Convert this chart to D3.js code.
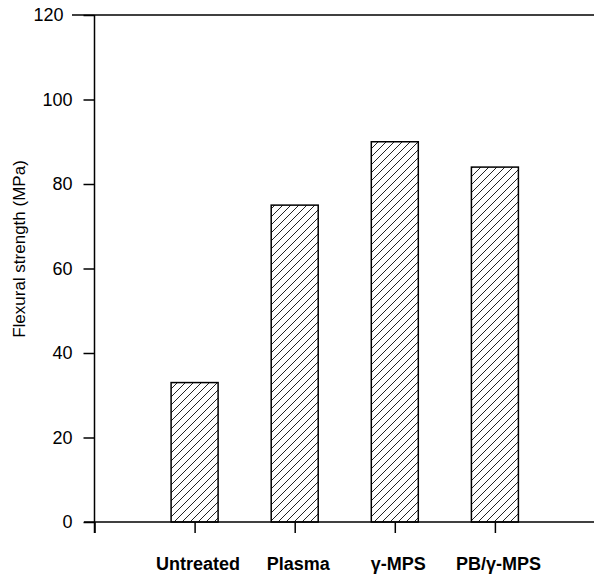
<!DOCTYPE html>
<html lang="en">
    <head>
        <meta charset="utf-8">
        <title> flexural strength bar chart </title>
        <script src="https://d3js.org/d3.v7.min.js"></script>
        <style type="text/css">
        body { margin: 0; background: #fff; }
        text { font-family: "Liberation Sans", Arial, sans-serif; fill: #000; }
        .bar { fill: url(#hatch); stroke: #000; stroke-width: 1.5px; }
        .frame { stroke: #000; stroke-width: 1.5px; fill: none; }
        </style>
    </head>
    <body>
    <script type="text/javascript">

  var w = 594;
  var h = 576;

  // data
  var categories = ["Untreated", "Plasma", "\u03b3-MPS", "PB/\u03b3-MPS"];
  var strength = [33, 75, 90, 84];
  var yTicks = [0, 20, 40, 60, 80, 100, 120];

  var svg = d3.select("body")
              .append("svg")
              .attr("width", w)
              .attr("height", h);

  // hatch pattern for the bars
  var pat = svg.append("defs")
               .append("pattern")
               .attr("id", "hatch")
               .attr("patternUnits", "userSpaceOnUse")
               .attr("width", 8)
               .attr("height", 8);
      pat.append("rect").attr("width", 8).attr("height", 8).attr("fill", "#fff");
      pat.append("path")
         .attr("d", "M-2,2 L2,-2 M0,8 L8,0 M6,10 L10,6")
         .attr("stroke", "#222")
         .attr("stroke-width", 1);

  // scales: categories sit at positions 1..4
  var xScale = d3.scaleLinear()
                 .domain([0, 5])
                 .range([94.5, 595]);

  var yScale = d3.scaleLinear()
                 .domain([0, 120])
                 .range([522, 15]);

  var barW = 47;

  svg.selectAll("rect.bar")
     .data(strength)
     .enter()
     .append("rect")
     .attr("class", "bar")
     .attr("x", (d, i) => xScale(i + 1) - barW / 2)
     .attr("y", d => yScale(d))
     .attr("width", barW)
     .attr("height", d => yScale(0) - yScale(d));

  // top frame line
  svg.append("line")
     .attr("class", "frame")
     .attr("x1", 72).attr("x2", w)
     .attr("y1", yScale(120)).attr("y2", yScale(120));

  // y axis
  var yAxis = d3.axisLeft(yScale)
                .tickValues(yTicks)
                .tickSize(11)
                .tickPadding(11);

  var gy = svg.append("g")
              .attr("transform", `translate(${xScale(0)},0)`)
              .call(yAxis);
      gy.select(".domain").remove();
      gy.selectAll(".tick line").attr("stroke", "#000").attr("stroke-width", 1.5);
      gy.selectAll(".tick text")
        .attr("font-size", "18px")
        .attr("font-family", "Liberation Sans, Arial, sans-serif")
        .attr("dx", d => d == 120 ? -9 : 0);

  svg.append("line")
     .attr("class", "frame")
     .attr("x1", xScale(0)).attr("x2", xScale(0))
     .attr("y1", yScale(120)).attr("y2", yScale(0) + 11);

  // x axis
  var xAxis = d3.axisBottom(xScale)
                .tickValues([0, 1, 2, 3, 4])
                .tickSize(11)
                .tickPadding(24)
                .tickFormat(d => d == 0 ? "" : categories[d - 1]);

  var gx = svg.append("g")
              .attr("transform", `translate(0,${yScale(0)})`)
              .call(xAxis);
      gx.select(".domain").remove();
      gx.selectAll(".tick line").attr("stroke", "#000").attr("stroke-width", 1.5);
      gx.selectAll(".tick text")
        .attr("font-size", "18px")
        .attr("font-weight", "bold")
        .attr("font-family", "Liberation Sans, Arial, sans-serif")
        .attr("dx", 3);

  svg.append("line")
     .attr("class", "frame")
     .attr("x1", 84).attr("x2", w)
     .attr("y1", yScale(0)).attr("y2", yScale(0));

  // y label
  svg.append("text")
     .attr("transform", "translate(25,249) rotate(-90)")
     .attr("text-anchor", "middle")
     .attr("font-size", "17px")
     .text("Flexural strength (MPa)");

    </script>
    </body>
</html>
